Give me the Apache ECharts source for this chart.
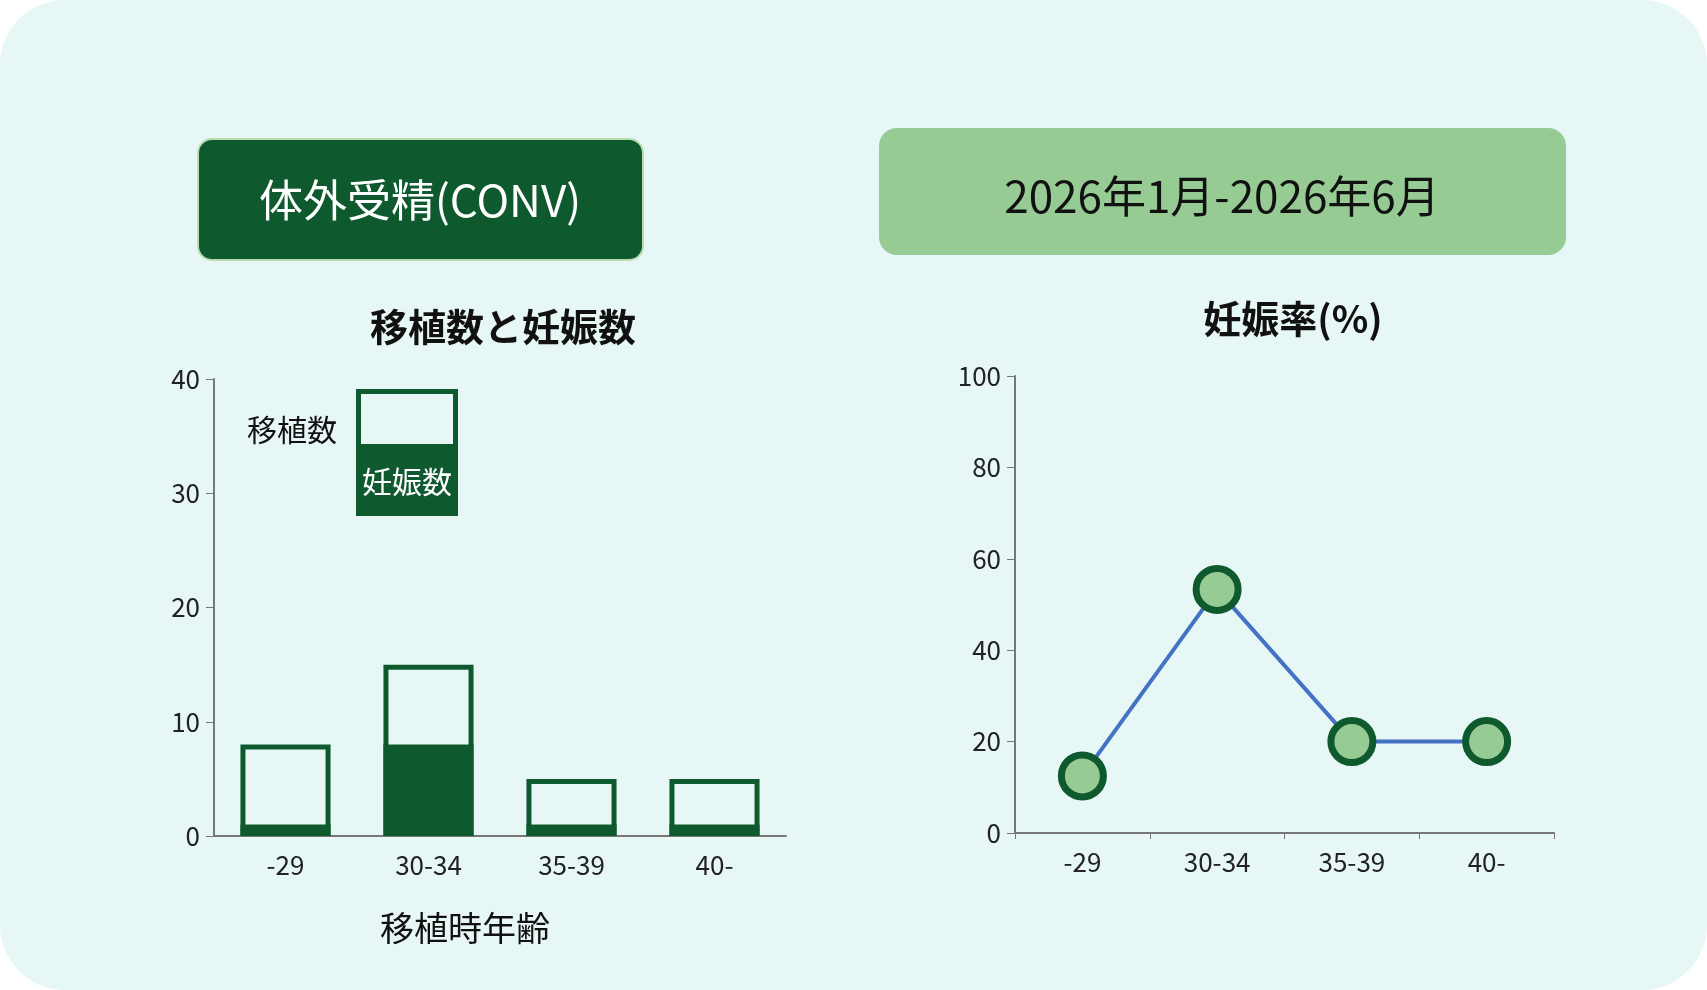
<!DOCTYPE html>
<html><head><meta charset="utf-8">
<script src="https://cdn.jsdelivr.net/npm/echarts@6/dist/echarts.min.js"></script>
<style>html,body{margin:0;padding:0;background:#fff}#chart-box{width:1707px;height:990px}</style>
</head><body><div id="chart-box"></div>
<script>
// データ
var categories = ['-29', '30-34', '35-39', '40-'];
var transfers = [8, 15, 5, 5];
var pregnancies = [1, 8, 1, 1];
var rates = [12.5, 53.3, 20, 20];

var dark = '#0e5a2e', light = '#96cb94', bg = '#e6f7f6';
var font = '"Noto Sans CJK JP", "Noto Sans", sans-serif';
var myChart = echarts.init(document.getElementById('chart-box'));

var axisLabel = { fontSize: 26, color: '#222', fontFamily: font };
var option = {
    backgroundColor: '#fff',
    textStyle: { fontFamily: font },
    graphic: [
        { type: 'rect', z: -10, shape: { x: 0, y: 0, width: 1707, height: 990, r: 65 }, style: { fill: bg } },
        { type: 'rect', shape: { x: 198, y: 139, width: 445, height: 121, r: 14 }, style: { fill: dark, stroke: '#b8dcae', lineWidth: 2 } },
        { type: 'text', x: 420, y: 200, style: { text: '体外受精(CONV)', fill: '#fff', font: '44px ' + font, align: 'center', verticalAlign: 'middle' } },
        { type: 'rect', shape: { x: 879, y: 128, width: 687, height: 127, r: 18 }, style: { fill: light } },
        { type: 'text', x: 1222, y: 196, style: { text: '2026年1月-2026年6月', fill: '#111', font: '44px ' + font, align: 'center', verticalAlign: 'middle' } },
        { type: 'text', x: 503, y: 327, style: { text: '移植数と妊娠数', fill: '#111', font: 'bold 38px ' + font, align: 'center', verticalAlign: 'middle' } },
        { type: 'text', x: 1293, y: 319, style: { text: '妊娠率(%)', fill: '#111', font: 'bold 38px ' + font, align: 'center', verticalAlign: 'middle' } },
        { type: 'text', x: 465, y: 928, style: { text: '移植時年齢', fill: '#111', font: '34px ' + font, align: 'center', verticalAlign: 'middle' } },
        // 凡例
        { type: 'rect', shape: { x: 356, y: 389, width: 102, height: 127 }, style: { fill: dark } },
        { type: 'rect', shape: { x: 361, y: 394, width: 92, height: 50 }, style: { fill: bg } },
        { type: 'text', x: 407, y: 482, style: { text: '妊娠数', fill: '#fff', font: '30px ' + font, align: 'center', verticalAlign: 'middle' } },
        { type: 'text', x: 292, y: 430, style: { text: '移植数', fill: '#111', font: '30px ' + font, align: 'center', verticalAlign: 'middle' } }
    ],
    grid: [
        { left: 214, top: 379, width: 572, height: 457 },
        { left: 1015, top: 376, width: 539, height: 457 }
    ],
    xAxis: [
        { type: 'category', gridIndex: 0, data: categories, axisTick: { show: false },
          axisLine: { lineStyle: { color: '#777', width: 2 } }, axisLabel: Object.assign({ margin: 16 }, axisLabel) },
        { type: 'category', gridIndex: 1, data: categories, axisTick: { show: true, alignWithLabel: false, length: 6 },
          axisLine: { lineStyle: { color: '#777', width: 2 } }, axisLabel: Object.assign({ margin: 16 }, axisLabel) }
    ],
    yAxis: [
        { type: 'value', gridIndex: 0, min: 0, max: 40, interval: 10, splitLine: { show: false },
          axisLine: { show: true, lineStyle: { color: '#777', width: 2 } }, axisTick: { show: true, length: 8 },
          axisLabel: Object.assign({ margin: 14 }, axisLabel) },
        { type: 'value', gridIndex: 1, min: 0, max: 100, interval: 20, splitLine: { show: false },
          axisLine: { show: true, lineStyle: { color: '#777', width: 2 } }, axisTick: { show: true, length: 8 },
          axisLabel: Object.assign({ margin: 14 }, axisLabel) }
    ],
    series: [
        { name: '移植数', type: 'bar', xAxisIndex: 0, yAxisIndex: 0, data: transfers, barWidth: '63%',
          itemStyle: { color: bg, borderColor: dark, borderWidth: 5 } },
        { name: '妊娠数', type: 'bar', xAxisIndex: 0, yAxisIndex: 0, data: pregnancies, barWidth: '63%', barGap: '-100%',
          itemStyle: { color: dark } },
        { name: '妊娠率', type: 'line', xAxisIndex: 1, yAxisIndex: 1, data: rates, symbol: 'circle', symbolSize: 42,
          lineStyle: { color: '#4472c4', width: 4 },
          itemStyle: { color: light, borderColor: dark, borderWidth: 7 } }
    ]
};
myChart.setOption(option);
</script></body></html>
